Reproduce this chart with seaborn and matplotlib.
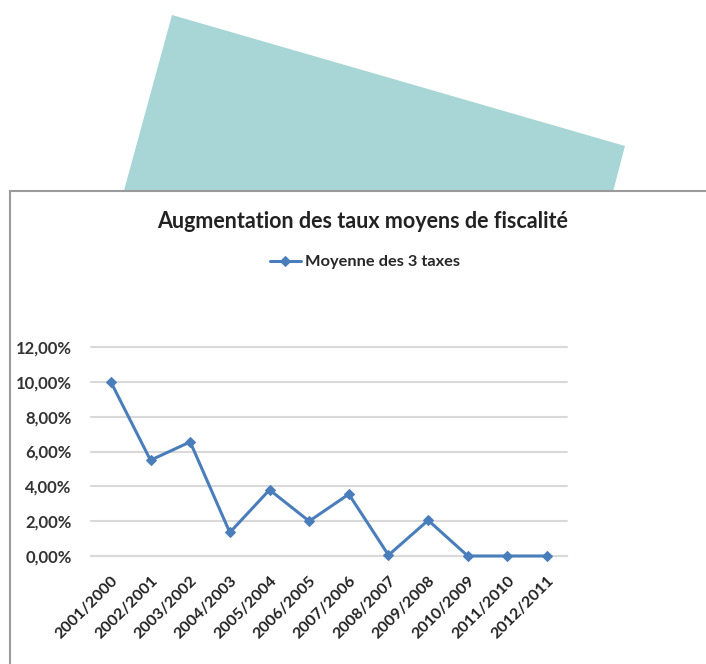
import pandas as pd
import matplotlib.pyplot as plt
import seaborn as sns
from matplotlib.patches import Polygon, Rectangle
from matplotlib.ticker import FuncFormatter

periodes = ["2001/2000", "2002/2001", "2003/2002", "2004/2003", "2005/2004", "2006/2005",
            "2007/2006", "2008/2007", "2009/2008", "2010/2009", "2011/2010", "2012/2011"]
moyenne = [10.0, 5.5, 6.55, 1.35, 3.8, 2.0, 3.55, 0.05, 2.05, 0.0, 0.0, 0.0]
yticks = [0, 2, 4, 6, 8, 10, 12]

W, H = 706, 664


def px(x, y):
    # pixels (origine en haut a gauche) -> coordonnees figure
    return (x / W, 1 - y / H)


def plot_taux():
    df = pd.DataFrame({"periode": periodes, "taux": moyenne})
    sns.set_theme(style="white")
    plt.rcParams["font.family"] = ["Lato", "DejaVu Sans"]

    fig = plt.figure(figsize=(W / 100, H / 100), dpi=100)
    fig.patch.set_facecolor("white")

    # forme turquoise derriere le graphique
    teal = Polygon([px(172, 15), px(625, 146), px(595, 260), px(105, 260)],
                   closed=True, transform=fig.transFigure, facecolor="#a8d5d5",
                   edgecolor="none", zorder=0)
    fig.patches.append(teal)
    # cadre du graphique
    cadre = Rectangle(px(10, 700), 720 / W, (700 - 191) / H, transform=fig.transFigure,
                      facecolor="white", edgecolor="#9a9a9a", linewidth=1.5, zorder=1)
    fig.patches.append(cadre)

    l, b = px(91, 556)
    r, t = px(567, 347)
    ax = fig.add_axes([l, b, r - l, t - b])
    ax.set_zorder(2)
    ax.patch.set_alpha(0)

    sns.lineplot(data=df, x="periode", y="taux", ax=ax, color="#4a7ebb", linewidth=2.2,
                 marker="D", markersize=5.5, markeredgecolor="#4a7ebb",
                 label="Moyenne des 3 taxes", legend=False, clip_on=False, zorder=3)

    ax.set_xlim(-0.5, len(periodes) - 0.5)
    ax.set_ylim(0, 12)
    ax.set_yticks(yticks)
    ax.yaxis.set_major_formatter(FuncFormatter(lambda v, p: f"{v:.2f}".replace(".", ",") + "%"))
    ax.grid(axis="y", color="#d9d9d9", linewidth=1.5)
    for g in ax.get_ygridlines():
        g.set_clip_on(False)
    ax.grid(axis="x", visible=False)
    for s in ["top", "right", "left"]:
        ax.spines[s].set_visible(False)
    ax.spines["bottom"].set_color("#d9d9d9")
    ax.spines["bottom"].set_linewidth(1.5)
    ax.tick_params(axis="y", length=0, pad=14)
    ax.tick_params(axis="x", length=0, pad=13)
    ax.set_xlabel("")
    ax.set_ylabel("")
    for lab in ax.get_yticklabels():
        lab.set_fontsize(12)
        lab.set_fontweight("bold")
        lab.set_color("#333333")
    ax.set_xticks(range(len(periodes)))
    ax.set_xticklabels(periodes, rotation=45, ha="right", rotation_mode="anchor",
                       fontsize=11.5, fontweight="bold", color="#222222")

    fig.text(*px(363, 222), "Augmentation des taux moyens de fiscalité", ha="center",
             va="center", fontsize=15.5, fontweight="bold", color="#222222", zorder=3)
    h, _ = ax.get_legend_handles_labels()
    fig.legend(h, ["Moyenne des 3 taxes"], loc="center", bbox_to_anchor=px(365, 262),
               frameon=False, handlelength=1.9, handletextpad=0.25,
               prop={"weight": "bold", "size": 11.8})

    plt.savefig("out.png", dpi=100)


if __name__ == "__main__":
    plot_taux()
